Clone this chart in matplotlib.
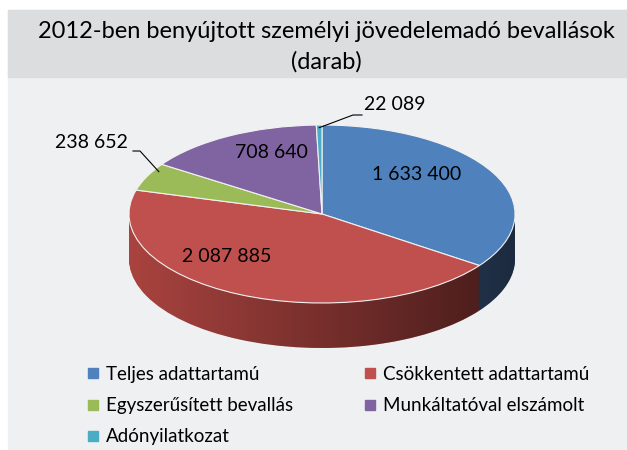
import numpy as np
import matplotlib.pyplot as plt
from matplotlib.patches import Rectangle, Polygon
from matplotlib.lines import Line2D
from matplotlib.colors import LinearSegmentedColormap

plt.rcParams['font.family'] = ['Lato', 'DejaVu Sans']

# adatok
categories = ['Teljes adattartamú', 'Csökkentett adattartamú', 'Egyszerűsített bevallás',
              'Munkáltatóval elszámolt', 'Adónyilatkozat']
values = [1633400, 2087885, 238652, 708640, 22089]

top_colors = ['#4F81BD', '#C0504D', '#9BBB59', '#8064A2', '#4BACC6']
side_colors = ['#46699A', '#A9433F', '#7E9A45', '#664F86', '#3A8DA4']

W, H = 627, 450
# ellipszis helye pixelben (felülről mérve)
cx, cy = 322, 214
rx, ry = 193, 89
depth = 45 / ry


def fpx(x, y):
    return x / W, 1 - y / H


def dpx(x, y):
    return (x - cx) / rx, (cy - y) / ry


fig = plt.figure(figsize=(W / 100, H / 100), dpi=100)
fig.patches.append(Rectangle((8 / W, 0), 1, 440 / H, transform=fig.transFigure,
                             color='#EFF0F2', zorder=-2))
fig.patches.append(Rectangle((8 / W, 1 - 77 / H), 1, 67 / H, transform=fig.transFigure,
                             color='#DCDDDF', zorder=-1))

ax = fig.add_axes([0, 0, 1, 1])
ax.patch.set_visible(False)

# oldalfal: egymásra rakott rétegek
n_layers = 46
for k in range(n_layers, 0, -1):
    side, _ = ax.pie(values, colors=side_colors, startangle=90, counterclock=False,
                     center=(0, -depth * k / n_layers), radius=1,
                     wedgeprops=dict(linewidth=0))
    for w in side:
        w.set_zorder(1)

# sötétedő színátmenet az oldalfalon
grad = np.linspace(0, 1, 256).reshape(1, -1)
shade = LinearSegmentedColormap.from_list('shade', [(0, 0, 0, 0.0), (0, 0, 0, 0.6)])
im = ax.imshow(grad, cmap=shade, extent=(-1, 1, -1 - depth, 0), aspect='auto',
               zorder=2, interpolation='bilinear')
t = np.linspace(np.pi, 2 * np.pi, 200)
verts = [(-1, 0)] + list(zip(np.cos(t), np.sin(t) - depth)) + [(1, 0)]
clip = Polygon(verts, closed=True, transform=ax.transData, facecolor='none', edgecolor='none')
ax.add_patch(clip)
im.set_clip_path(clip)

# teteje
wedges, _ = ax.pie(values, colors=top_colors, startangle=90, counterclock=False, radius=1,
                   wedgeprops=dict(edgecolor='#F2F2F2', linewidth=0.8))
for w in wedges:
    w.set_zorder(3)

ax.set_xlim(-cx / rx, (W - cx) / rx)
ax.set_ylim((cy - H) / ry, cy / ry)
ax.set_aspect('auto')
ax.axis('off')

# adatfeliratok
label_px = [(417, 175), (227, 256), (91, 143), (271, 153), (395, 105)]
for v, (x, y) in zip(values, label_px):
    ax.text(*dpx(x, y), f'{v:,}'.replace(',', ' '), ha='center', va='center',
            fontsize=14, zorder=5)

# vezetővonalak (szelet, könyökpontok, hol éri a szelet szélét 0..1)
leaders = {2: ([(133, 151), (140, 151)], 0.25), 4: ([(362, 115), (353, 115)], 0.5)}
for i, (pts, f) in leaders.items():
    w = wedges[i]
    a = np.deg2rad(w.theta1 + f * (w.theta2 - w.theta1))
    xy = [dpx(*p) for p in pts] + [(0.97 * np.cos(a), 0.97 * np.sin(a))]
    ax.plot([p[0] for p in xy], [p[1] for p in xy], color='black', lw=0.8, zorder=5)

fig.text(326 / W, 1 - 47 / H, '2012-ben benyújtott személyi jövedelemadó bevallások\n(darab)',
         ha='center', va='center', fontsize=17, linespacing=1.5)

handles = [Line2D([], [], marker='s', ls='none', markersize=7.2, color=c) for c in top_colors]
order = [0, 2, 4, 1, 3]
fig.legend([handles[i] for i in order], [categories[i] for i in order], ncol=2,
           loc='upper left', bbox_to_anchor=fpx(86, 366), frameon=False, fontsize=13.5,
           handlelength=0.7, handletextpad=0.35, columnspacing=3.75, labelspacing=0.75,
           borderpad=0, borderaxespad=0)

fig.savefig('out.png', dpi=100)
